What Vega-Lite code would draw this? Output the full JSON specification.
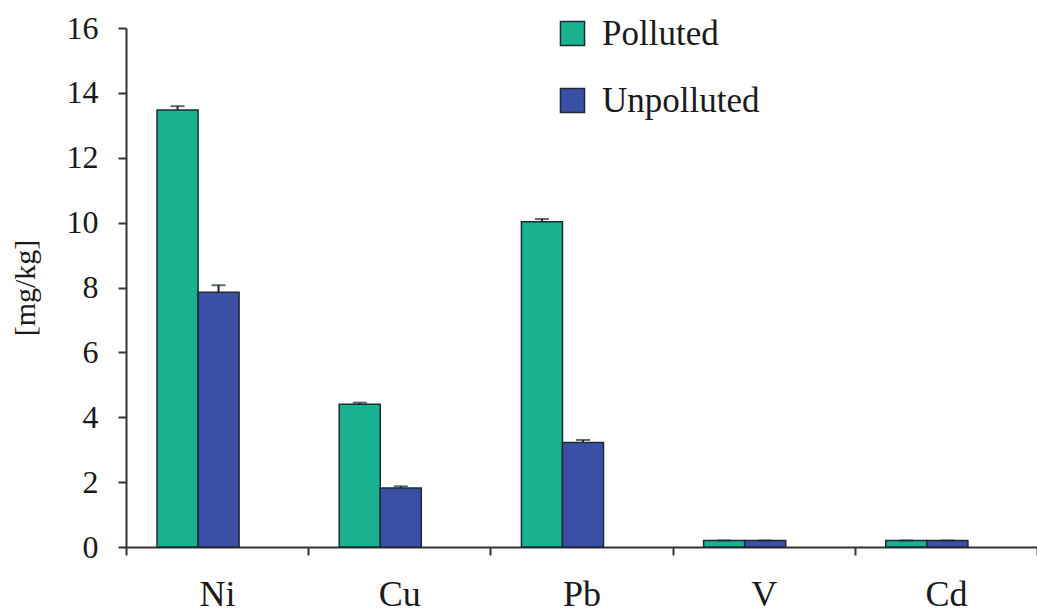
{
  "$schema": "https://vega.github.io/schema/vega-lite/v6.json",
  "width": 911,
  "height": 519,
  "autosize": {"type": "none"},
  "padding": {"left": 126, "top": 28, "right": 0, "bottom": 65},
  "background": "white",
  "config": {
    "font": "Liberation Serif",
    "view": {"stroke": null},
    "axis": {"labelFont": "Liberation Serif", "titleFont": "Liberation Serif", "labelColor": "#1a1a1a", "titleColor": "#1a1a1a", "domainColor": "#333", "tickColor": "#333", "domainWidth": 2, "tickWidth": 2, "grid": false}
  },
  "data": {
    "values": [
      {"element": "Ni", "group": "Polluted", "value": 13.47, "err": 0.12},
      {"element": "Ni", "group": "Unpolluted", "value": 7.85, "err": 0.22},
      {"element": "Cu", "group": "Polluted", "value": 4.4, "err": 0.05},
      {"element": "Cu", "group": "Unpolluted", "value": 1.82, "err": 0.05},
      {"element": "Pb", "group": "Polluted", "value": 10.03, "err": 0.08},
      {"element": "Pb", "group": "Unpolluted", "value": 3.22, "err": 0.08},
      {"element": "V", "group": "Polluted", "value": 0.2, "err": 0.0},
      {"element": "V", "group": "Unpolluted", "value": 0.2, "err": 0.0},
      {"element": "Cd", "group": "Polluted", "value": 0.2, "err": 0.0},
      {"element": "Cd", "group": "Unpolluted", "value": 0.2, "err": 0.0}
    ]
  },
  "encoding": {
    "x": {
      "field": "element", "type": "nominal", "sort": ["Ni", "Cu", "Pb", "V", "Cd"],
      "scale": {"paddingInner": 0, "paddingOuter": 0},
      "axis": {"title": null, "labelAngle": 0, "labelFontSize": 36, "tickBand": "extent", "tickSize": 8, "labelPadding": 22, "domainWidth": 2}
    },
    "xOffset": {
      "field": "group", "type": "nominal",
      "scale": {"domain": ["Polluted", "Unpolluted", "_pad"], "paddingInner": 0, "paddingOuter": 0.72, "align": 0.525}
    }
  },
  "layer": [
    {
      "mark": {"type": "bar", "stroke": "#1c2a33", "strokeWidth": 1.5},
      "encoding": {
        "y": {
          "field": "value", "type": "quantitative",
          "scale": {"domain": [0, 16]},
          "axis": {"title": "[mg/kg]", "titleFontSize": 30, "titleFontWeight": "normal", "titlePadding": 26, "labelFontSize": 32, "labelOverlap": false, "values": [0, 2, 4, 6, 8, 10, 12, 14, 16], "tickSize": 8, "labelPadding": 20}
        },
        "fill": {
          "field": "group", "type": "nominal",
          "scale": {"domain": ["Polluted", "Unpolluted"], "range": ["#18b291", "#3a4fa6"]},
          "legend": {"title": null, "orient": "none", "legendX": 429, "legendY": -12, "symbolType": "square", "symbolSize": 580, "symbolStrokeColor": "#1c2a33", "symbolStrokeWidth": 1.5, "symbolOpacity": 1, "labelFontSize": 35, "labelFont": "Liberation Serif", "labelColor": "#1a1a1a", "labelOffset": 12, "rowPadding": 31}
        }
      }
    },
    {
      "mark": {"type": "rule", "color": "#1c2a33", "strokeWidth": 2},
      "encoding": {
        "y": {"field": "value", "type": "quantitative"},
        "y2": {"field": "hi"}
      },
      "transform": [{"calculate": "datum.value + datum.err", "as": "hi"}]
    },
    {
      "mark": {"type": "tick", "color": "#1c2a33", "thickness": 2, "size": 14},
      "transform": [{"calculate": "datum.value + datum.err", "as": "hi"}],
      "encoding": {
        "y": {"field": "hi", "type": "quantitative"}
      }
    }
  ]
}
